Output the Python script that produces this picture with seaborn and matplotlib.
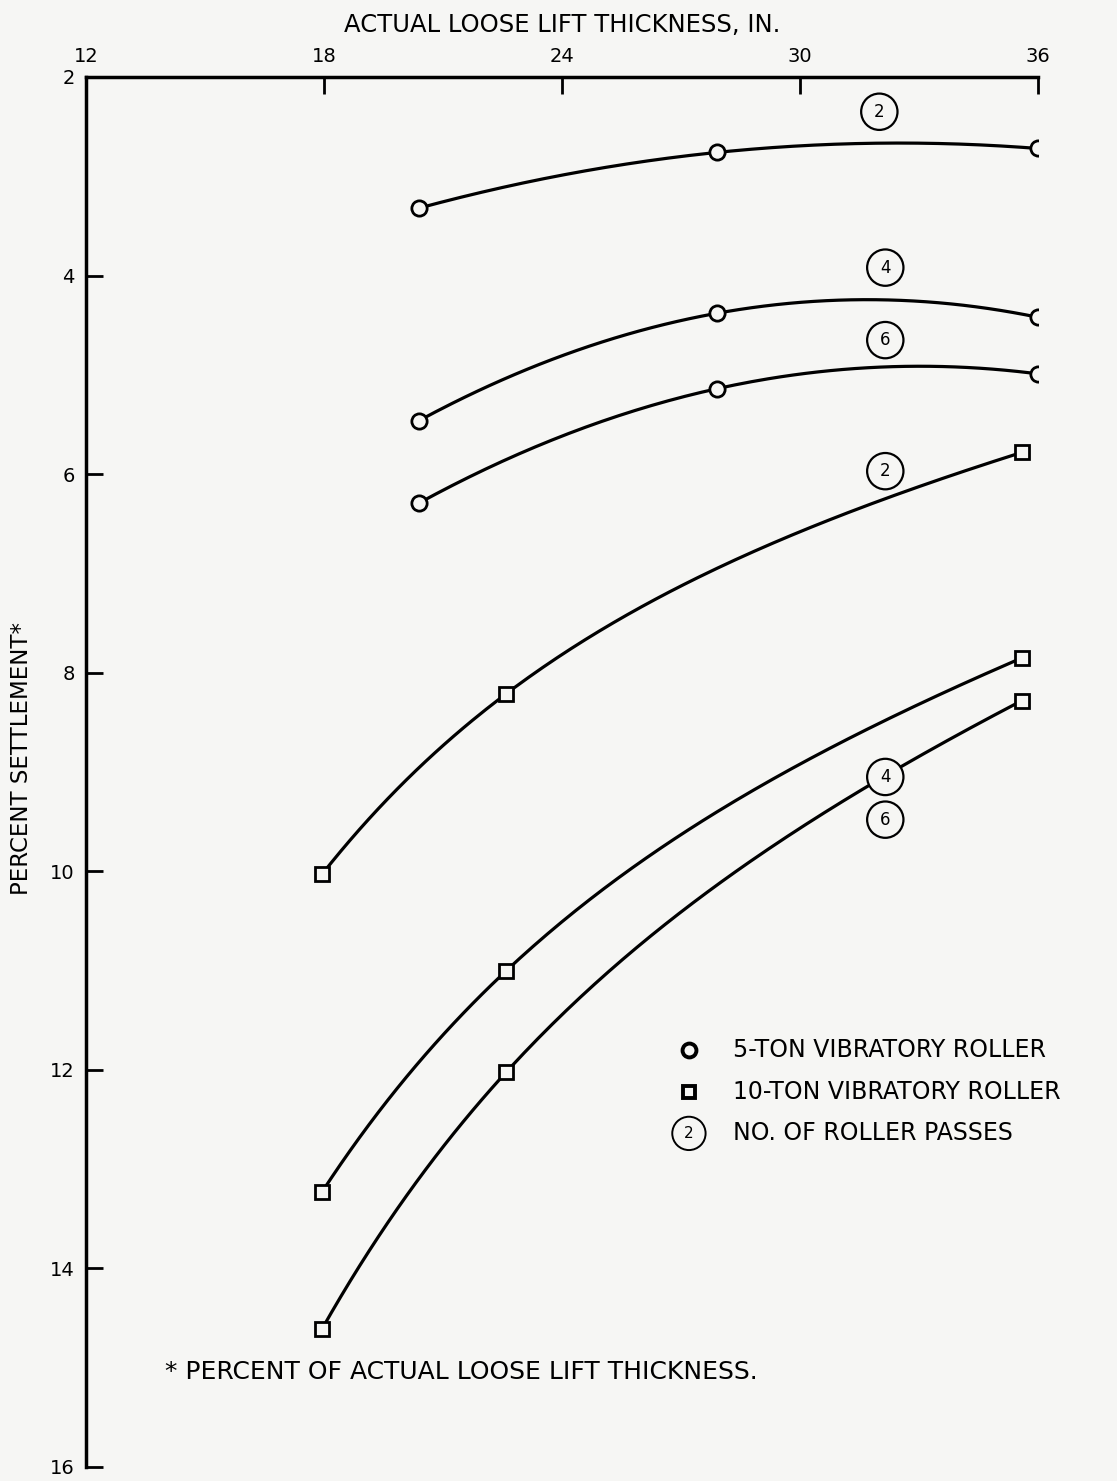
import numpy as np
import pandas as pd
import matplotlib
matplotlib.use('Agg')
import matplotlib.pyplot as plt
import seaborn as sns

# readings (x = loose lift thickness, in.; y = percent settlement)
x_5ton = [20.4, 27.9, 36.0]
y_5ton_2 = [3.32, 2.76, 2.72]
y_5ton_4 = [5.46, 4.38, 4.42]
y_5ton_6 = [6.29, 5.14, 4.99]

x_10ton = [17.95, 22.6, 35.6]
y_10ton_2 = [10.03, 8.21, 5.78]
y_10ton_4 = [13.23, 11.00, 7.85]
y_10ton_6 = [14.61, 12.02, 8.28]

# circled pass labels
pass_labels = ['2', '4', '6', '2', '4', '6']
pass_x = [32.0, 32.15, 32.15, 32.15, 32.15, 32.15]
pass_y = [2.35, 3.92, 4.65, 5.97, 9.05, 9.48]

x_ticks = [12, 18, 24, 30, 36]
y_ticks = [2, 4, 6, 8, 10, 12, 14, 16]

rows = []
for name, xs, ys, roller in [('5-2', x_5ton, y_5ton_2, '5'), ('5-4', x_5ton, y_5ton_4, '5'),
                             ('5-6', x_5ton, y_5ton_6, '5'), ('10-2', x_10ton, y_10ton_2, '10'),
                             ('10-4', x_10ton, y_10ton_4, '10'), ('10-6', x_10ton, y_10ton_6, '10')]:
    for a, b in zip(xs, ys):
        rows.append({'curve': name, 'roller': roller, 'x': a, 'y': b})
data = pd.DataFrame(rows)

sns.set_theme(style='white')
plt.rcParams['font.family'] = ['DejaVu Sans']
plt.rcParams['text.color'] = 'black'
plt.rcParams['axes.labelcolor'] = 'black'
plt.rcParams['xtick.color'] = 'black'
plt.rcParams['ytick.color'] = 'black'
bg = '#f6f6f4'

fig = plt.figure(figsize=(11.17, 14.81), dpi=100, facecolor=bg)
ax = fig.add_axes([86 / 1117, 1 - 1467 / 1481, (1038 - 86) / 1117, (1467 - 77) / 1481])
ax.set_facecolor(bg)

# smooth curve through each set of three points
for name, grp in data.groupby('curve'):
    xs = grp.x.values
    ys = grp.y.values
    xx = np.linspace(xs.min(), xs.max(), 150)
    if grp.roller.iloc[0] == '5':
        c = np.polyfit(xs, ys, 2)
        yy = np.polyval(c, xx)
    else:
        # line plus decaying term: steep start, flattening toward the right
        basis = lambda v: np.column_stack([np.ones_like(v), v, np.exp(-0.15 * (v - 18))])
        c = np.linalg.solve(basis(xs), ys)
        yy = basis(xx) @ c
    sns.lineplot(x=xx, y=yy, ax=ax, color='black', lw=2.3, zorder=2)

d5 = data[data.roller == '5']
d10 = data[data.roller == '10']
ax.plot(d5.x, d5.y, 'o', ms=11, mfc=bg, mec='black', mew=2, ls='none', zorder=3)
ax.plot(d10.x, d10.y, 's', ms=10, mfc=bg, mec='black', mew=2, ls='none', zorder=3)

for lab, px, py in zip(pass_labels, pass_x, pass_y):
    ax.text(px, py, lab, ha='center', va='center', fontsize=12,
            bbox=dict(boxstyle='circle,pad=0.55', fc=bg, ec='black', lw=1.6))

# legend drawn by hand
ax.plot([27.2], [11.80], 'o', ms=10, mfc=bg, mec='black', mew=2.8)
ax.plot([27.2], [12.22], 's', ms=9, mfc=bg, mec='black', mew=2.8)
ax.text(27.2, 12.64, '2', ha='center', va='center', fontsize=11,
        bbox=dict(boxstyle='circle,pad=0.6', fc=bg, ec='black', lw=1.4))
leg_txt = ['5-TON VIBRATORY ROLLER', '10-TON VIBRATORY ROLLER', 'NO. OF ROLLER PASSES']
for t, yy in zip(leg_txt, [11.80, 12.22, 12.64]):
    ax.text(28.3, yy, t, ha='left', va='center', fontsize=17)

ax.text(14.0, 15.04, '* PERCENT OF ACTUAL LOOSE LIFT THICKNESS.', ha='left', va='center', fontsize=18)

ax.set_xlim(12, 36)
ax.set_ylim(16, 2)
ax.set_xticks(x_ticks)
ax.set_yticks(y_ticks)
ax.xaxis.tick_top()
ax.xaxis.set_label_position('top')
ax.tick_params(axis='x', direction='in', length=12, width=2, pad=8, labelsize=14, top=True, bottom=False)
ax.tick_params(axis='y', direction='in', length=12, width=2, pad=8, labelsize=14, left=True)
for s in ['bottom', 'right']:
    ax.spines[s].set_visible(False)
for s in ['top', 'left']:
    ax.spines[s].set_linewidth(2.5)
    ax.spines[s].set_color('black')
ax.set_xlabel('ACTUAL LOOSE LIFT THICKNESS, IN.', fontsize=17.5, labelpad=11)
ax.set_ylabel('PERCENT SETTLEMENT*', fontsize=16.5, labelpad=12)
ax.yaxis.set_label_coords(-0.056, 0.51)

fig.savefig('out.png', dpi=100, facecolor=bg)
